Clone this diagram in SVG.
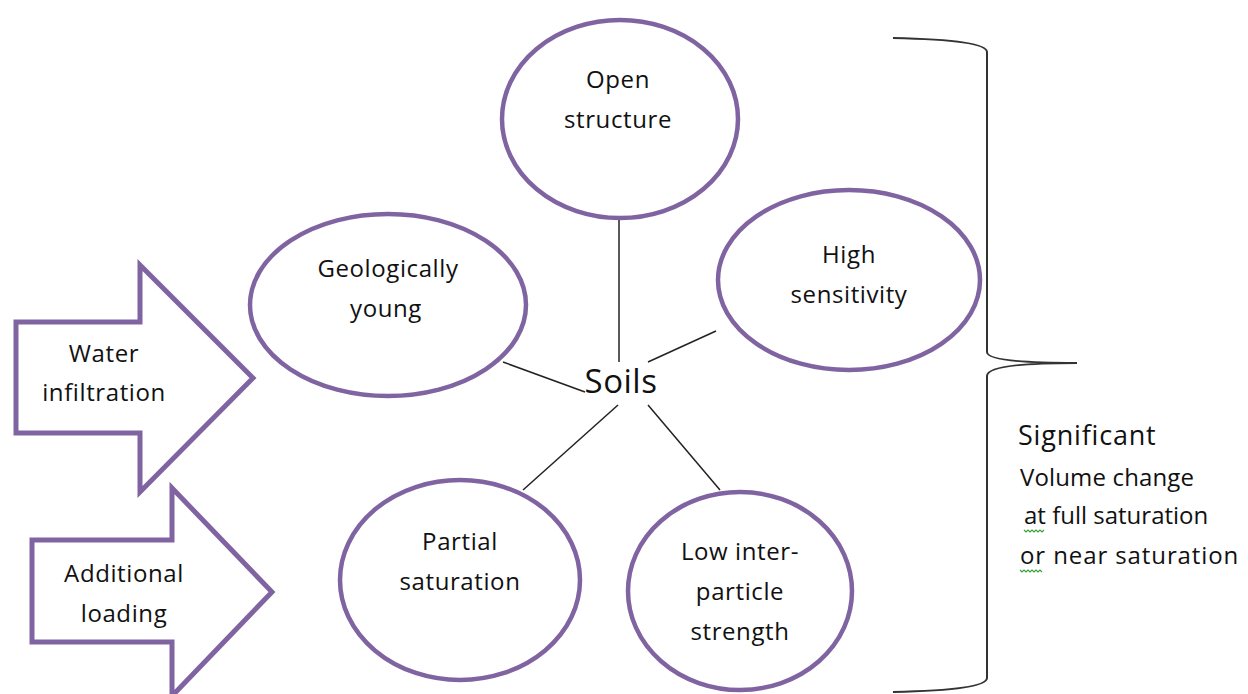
<svg xmlns="http://www.w3.org/2000/svg" width="1248" height="694" viewBox="0 0 1248 694">
<style>
.node{fill:#fff;stroke:#8064a2;stroke-width:4.5}
.arrow{fill:#fff;stroke:#8064a2;stroke-width:5;stroke-linejoin:miter}
.lbl{font-family:"Open Sans","Noto Sans",sans-serif;font-size:24px;letter-spacing:0.6px;fill:#111;text-anchor:middle}
.side{font-family:"Open Sans","Noto Sans",sans-serif;font-size:24px;letter-spacing:0.9px;fill:#111}
.conn{stroke:#222;stroke-width:1.5;fill:none}
.wavy{stroke:#3aa13a;stroke-width:1.2;fill:none}
</style>
<rect width="1248" height="694" fill="#fff"/>
<g id="connectors">
<line class="conn" x1="619" y1="218" x2="619" y2="362"/>
<line class="conn" x1="503" y1="362" x2="585" y2="392"/>
<line class="conn" x1="716" y1="331" x2="648" y2="362"/>
<line class="conn" x1="618" y1="405" x2="523" y2="490"/>
<line class="conn" x1="648" y1="405" x2="720" y2="490"/>
</g>
<g id="soils"><text x="621" y="393" style="font-family:'Open Sans','Noto Sans',sans-serif;font-size:33px;letter-spacing:0.5px;fill:#111;text-anchor:middle">Soils</text></g>
<g id="open-structure">
<ellipse class="node" cx="620" cy="119" rx="118" ry="99"/>
<text class="lbl" x="618" y="88">Open</text>
<text class="lbl" x="618" y="128">structure</text>
</g>
<g id="geologically-young">
<ellipse class="node" cx="388" cy="305" rx="138" ry="91"/>
<text class="lbl" x="388" y="277">Geologically</text>
<text class="lbl" x="386" y="317">young</text>
</g>
<g id="high-sensitivity">
<ellipse class="node" cx="849" cy="280" rx="131" ry="90"/>
<text class="lbl" x="849" y="263">High</text>
<text class="lbl" x="849" y="303">sensitivity</text>
</g>
<g id="partial-saturation">
<ellipse class="node" cx="460" cy="580" rx="120" ry="100"/>
<text class="lbl" x="460" y="550">Partial</text>
<text class="lbl" x="460" y="590">saturation</text>
</g>
<g id="low-strength">
<ellipse class="node" cx="740" cy="591" rx="112" ry="99"/>
<text class="lbl" x="740" y="560">Low inter-</text>
<text class="lbl" x="740" y="600">particle</text>
<text class="lbl" x="740" y="640">strength</text>
</g>
<g id="water-infiltration">
<path class="arrow" d="M16 322 H140 V265 L253 378 L140 492 V433 H16 Z"/>
<text class="lbl" x="104" y="362">Water</text>
<text class="lbl" x="104" y="401">infiltration</text>
</g>
<g id="additional-loading">
<path class="arrow" d="M32 540 H172 V488 L272 592 L172 696 V642 H32 Z"/>
<text class="lbl" x="124" y="582">Additional</text>
<text class="lbl" x="124" y="622">loading</text>
</g>
<g id="brace">
<path d="M893 38 Q987 40 987 52 V352 Q987 363 1077 363 Q987 363 987 376 V678 Q987 690 893 692" fill="none" stroke="#333" stroke-width="2"/>
</g>
<g id="significant">
<text x="1018" y="445" style="font-family:'Open Sans','Noto Sans',sans-serif;font-size:27px;letter-spacing:0.8px;fill:#111">Significant</text>
<text class="side" x="1020" y="486" style="letter-spacing:0.15px">Volume change</text>
<text class="side" x="1024" y="524" style="letter-spacing:0px">at full saturation</text>
<text class="side" x="1020" y="564">or near saturation</text>
<path class="wavy" d="M1024 530 l2 2 l2 -2 l2 2 l2 -2 l2 2 l2 -2 l2 2 l2 -2 l2 2 l2 -2"/>
<path class="wavy" d="M1020 570 l2 2 l2 -2 l2 2 l2 -2 l2 2 l2 -2 l2 2 l2 -2 l2 2 l2 -2 l2 2"/>
</g>
</svg>
